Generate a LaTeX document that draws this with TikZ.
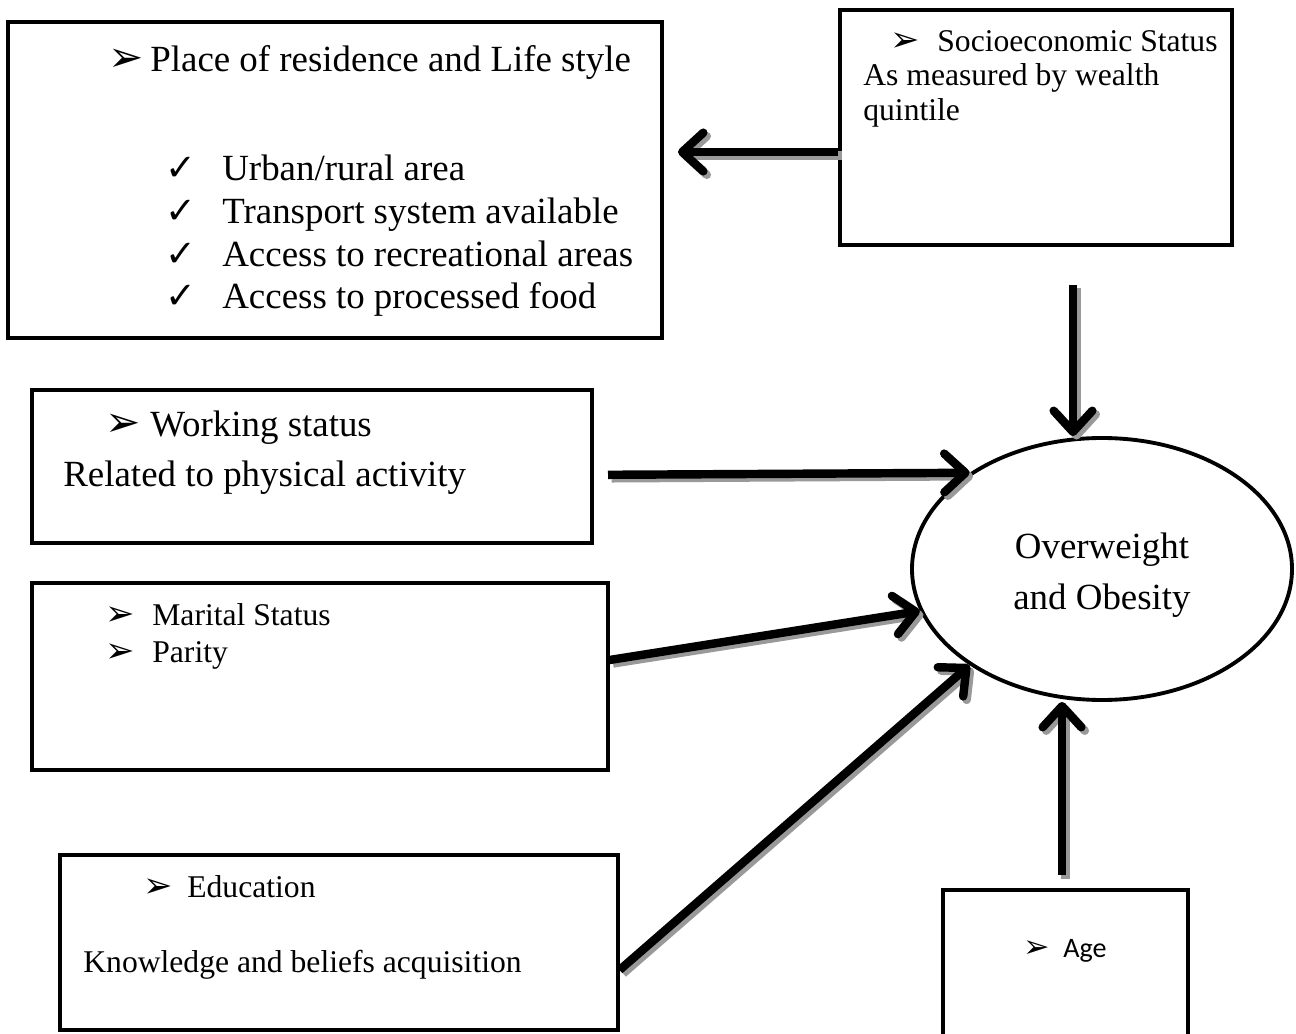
\documentclass[tikz,border=0pt]{standalone}
\usepackage{fontspec}
\setmainfont{Liberation Serif}
\newfontfamily\symfont{DejaVu Sans}
\newfontfamily\calfont{Carlito}
\usepackage{tikz}
\usetikzlibrary{arrows.meta,shapes.geometric}

\newcommand{\arrbul}[2]{\makebox[#1][l]{\symfont\fontsize{#2}{#2}\selectfont ➢}}
\newcommand{\chk}{\makebox[1.14cm][l]{\symfont\fontsize{21}{21}\selectfont ✓}}

\begin{document}
\begin{tikzpicture}[x=1cm, y=1cm,
	box/.style={draw, line width=1.8pt, rectangle, inner sep=0pt},
	bigtxt/.style={anchor=base west, inner sep=0pt, font=\fontsize{21}{24.4}\selectfont},
	smalltxt/.style={anchor=base west, inner sep=0pt, font=\fontsize{18}{20}\selectfont},
	arr/.style={line width=4.8pt, -{Straight Barb[length=12pt, width=22pt, round]},
		preaction={draw=black!40, line width=4.8pt, transform canvas={shift={(0.07cm,-0.07cm)}}}}]
	\useasboundingbox (0,0) rectangle (25.92,-20.68);

	% boxes
	\node[box, line width=2.3pt, minimum width=13.08cm, minimum height=6.32cm] (place) at (6.70,-3.60) {};
	\node[box, line width=2.1pt, minimum width=7.84cm, minimum height=4.7cm] (soc) at (20.72,-2.55) {};
	\node[box, minimum width=11.2cm, minimum height=3.06cm] (wk) at (6.24,-9.33) {};
	\node[box, minimum width=11.52cm, minimum height=3.74cm] (mar) at (6.40,-13.53) {};
	\node[box, minimum width=11.16cm, minimum height=3.5cm] (edu) at (6.78,-18.85) {};
	\node[box, line width=2.4pt, minimum width=4.9cm, minimum height=3.6cm] (age) at (21.31,-19.6) {};
	\node[draw, ellipse, line width=2.2pt, minimum width=7.6cm, minimum height=5.24cm, inner sep=0pt] (ov) at (22.04,-11.38) {};
	\node[align=center, inner sep=0pt, font=\fontsize{21}{29}\selectfont] (ovlbl) at (22.04,-11.50) {Overweight\\and Obesity};

	% texts
	\node[bigtxt] (placehd) at (2.16,-1.44) {\arrbul{0.84cm}{24}Place of residence and Life style};
	\node[bigtxt] (urban) at (3.30,-3.62) {\chk Urban/rural area};
	\node[bigtxt] (transp) at (3.30,-4.48) {\chk Transport system available};
	\node[bigtxt] (recr) at (3.30,-5.34) {\chk Access to recreational areas};
	\node[bigtxt] (food) at (3.30,-6.18) {\chk Access to processed food};

	\node[smalltxt] (sochd) at (17.8,-1.04) {\arrbul{0.94cm}{20}Socioeconomic Status};
	\node[smalltxt] (wealth) at (17.26,-1.72) {As measured by wealth};
	\node[smalltxt] (quint) at (17.26,-2.42) {quintile};

	\node[bigtxt] (wkhd) at (2.1,-8.74) {\arrbul{0.9cm}{24}Working status};
	\node[bigtxt] (phys) at (1.26,-9.74) {Related to physical activity};

	\node[smalltxt] (marhd) at (2.1,-12.5) {\arrbul{0.94cm}{20}Marital Status};
	\node[smalltxt] (parity) at (2.1,-13.24) {\arrbul{0.94cm}{20}Parity};

	\node[smalltxt] (eduhd) at (2.86,-17.94) {\arrbul{0.88cm}{20}Education};
	\node[smalltxt] (know) at (1.66,-19.44) {Knowledge and beliefs acquisition};

	\node[anchor=base west, inner sep=0pt, font=\calfont\fontsize{16}{18}\selectfont] (agehd) at (20.46,-19.14) {\arrbul{0.8cm}{18}Age};

	% arrows
	\coordinate (plend) at (13.56,-3.04);
	\coordinate (sestart) at (21.46,-5.7);
	\coordinate (wkstart) at (12.16,-9.496);
	\coordinate (agestart) at (21.24,-17.5);

	\draw[arr] (soc.west |- plend) -- (plend);
	\draw[arr] (sestart) -- (sestart |- ov.north);
	\draw[arr] (wkstart) -- (ov.144.5);
	\draw[arr] ([yshift=0.33cm]mar.east) -- (ov.193.5);
	\draw[arr] ([yshift=-0.55cm]edu.east) -- (ov.216.7);
	\draw[arr] (agestart) -- (agestart |- ov.south);

\end{tikzpicture}
\end{document}
